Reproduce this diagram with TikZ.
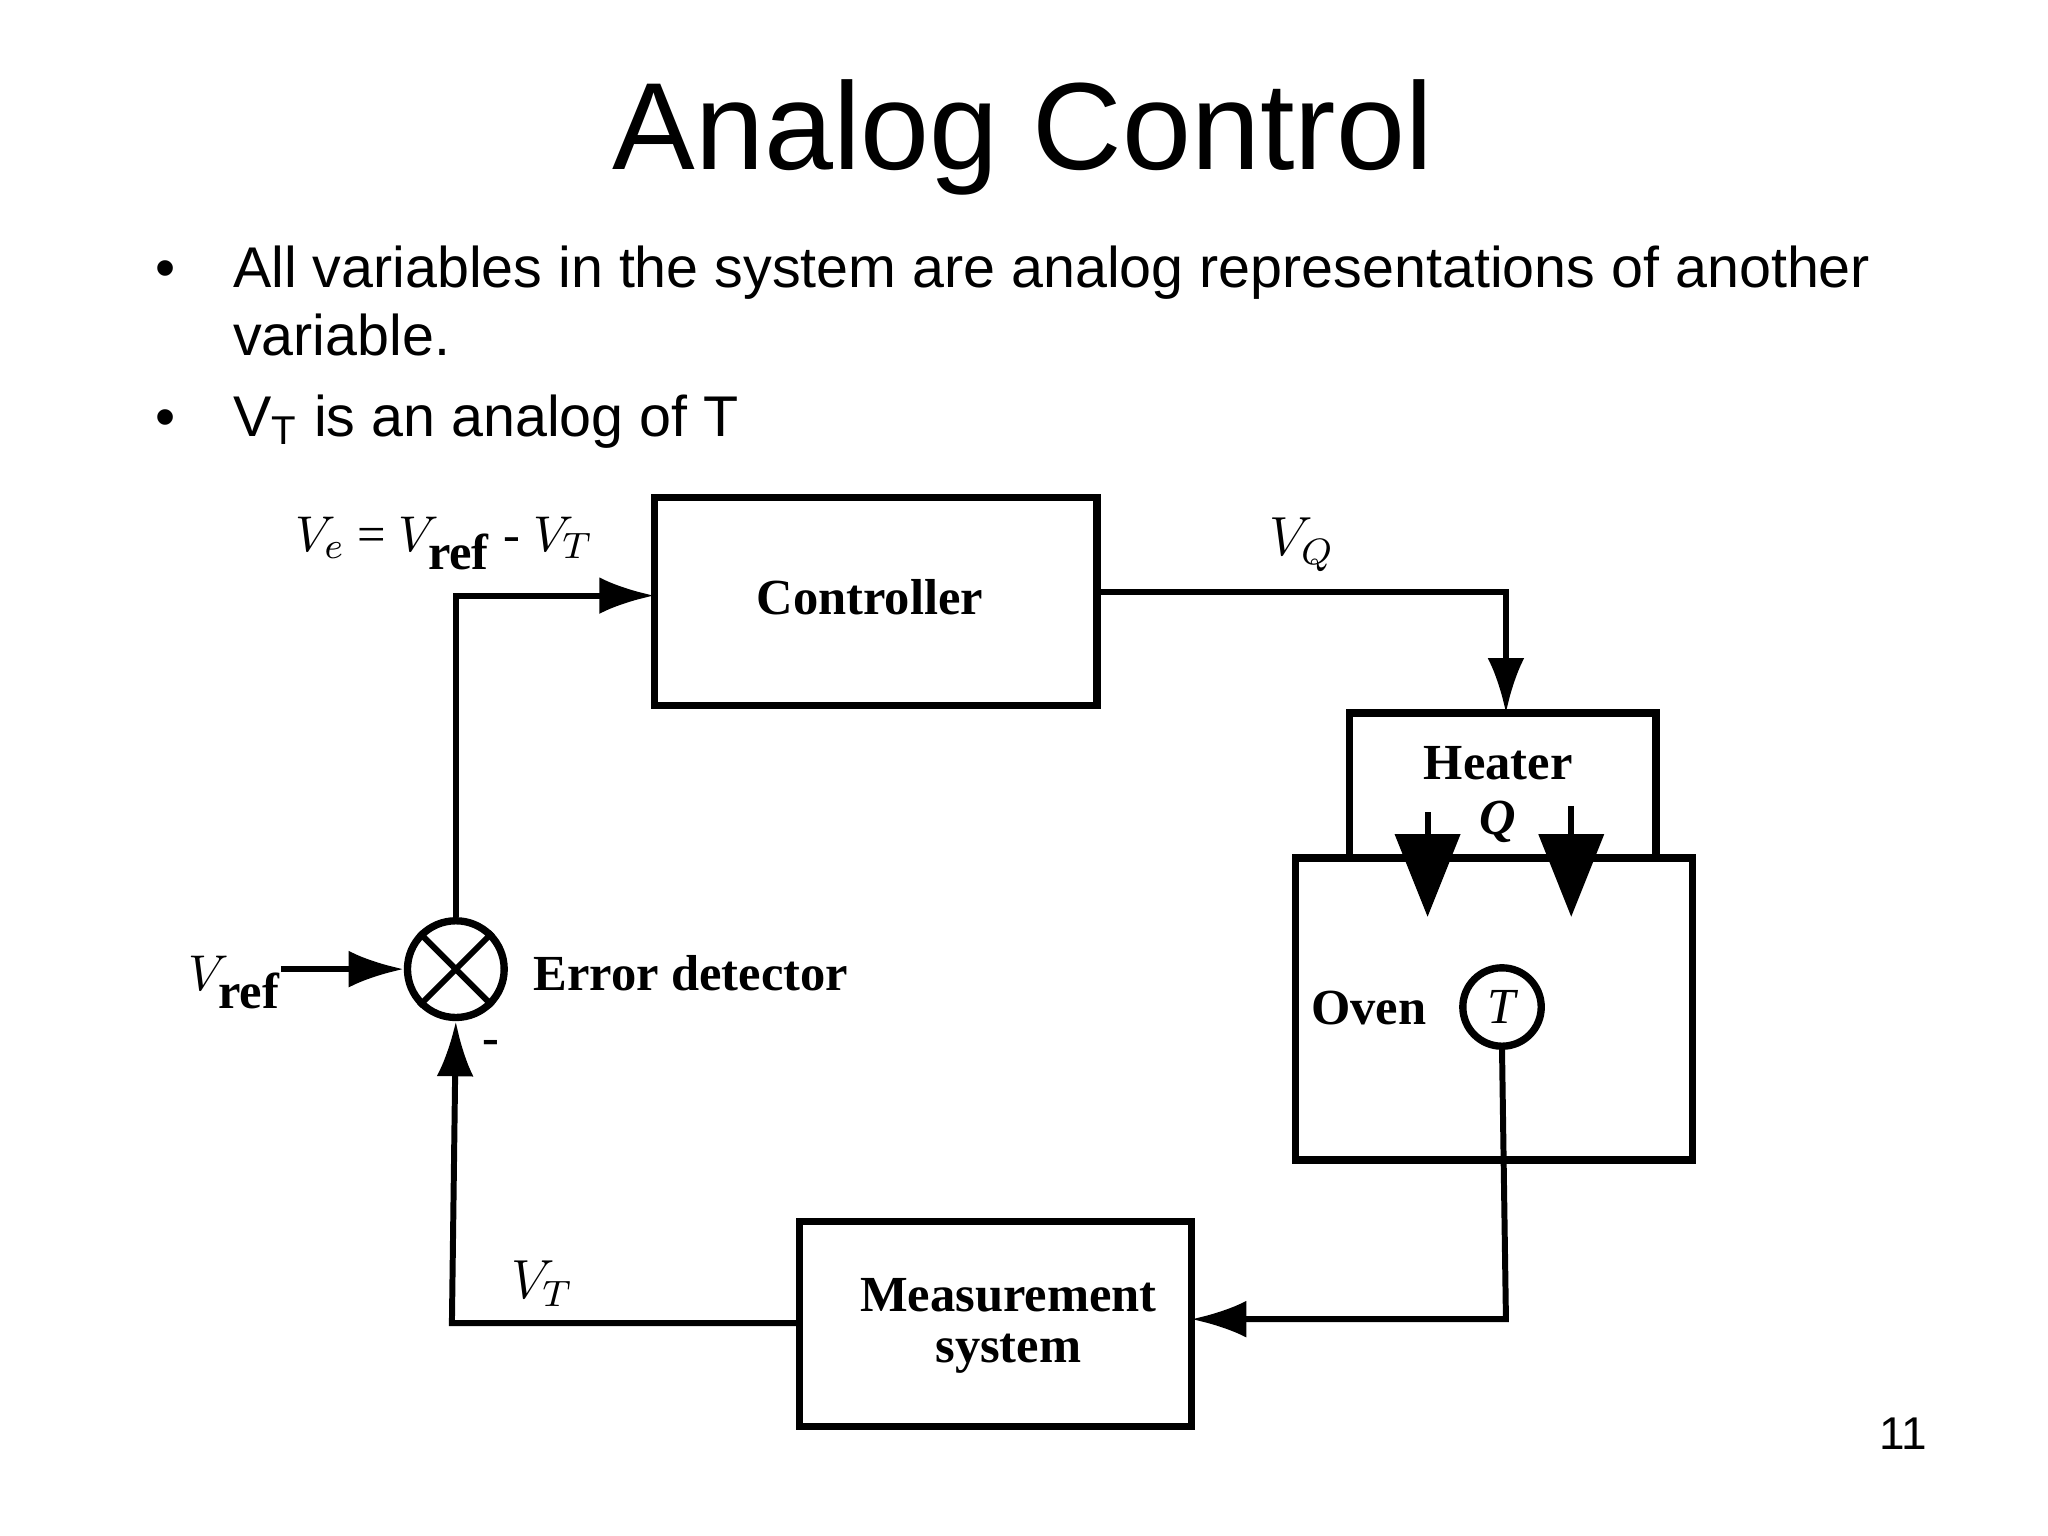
\documentclass[tikz,border=0pt]{standalone}
\usepackage{fontspec}
\setmainfont{Liberation Serif}
\newfontfamily\sansf{Liberation Sans}
\usetikzlibrary{arrows.meta}
\begin{document}
\begin{tikzpicture}[x=0.01cm,y=-0.01cm,
  blk/.style={draw,line width=1.6pt},
  ln/.style={line width=1.3pt},
  arr/.style={ln,-{Latex[length=12pt,width=8pt]}},
  big/.style={ln,-{Triangle[length=18pt,width=14pt]}},
  lbl/.style={font=\fontsize{11pt}{13pt}\selectfont\bfseries},
  txt/.style={font=\sansf\fontsize{12.5pt}{15pt}\selectfont,anchor=base west}]
\useasboundingbox (0,0) rectangle (1568,1176);
\node[font=\sansf\fontsize{27pt}{30pt}\selectfont] (title) at (783,105) {Analog Control};
\node[txt] (b1) at (107,220) {•};
\node[txt] (t1) at (166,220) {All variables in the system are analog representations of another};
\node[txt] (t2) at (166,272) {variable.};
\node[txt] (b2) at (107,334) {•};
\node[txt] (t3) at (166,334) {V\textsubscript{T} is an analog of T};
% blocks
\draw[blk] (501,381) rectangle (840,540);
\node[lbl] (ctrlt) at (666,457) {Controller};
\draw[blk] (1033,546) rectangle (1268,657);
\draw[blk] (992,657) rectangle (1296,888);
\draw[blk] (612,935) rectangle (912,1092);
\node[lbl] (heat) at (1147,584) {Heater};
\node[lbl,font=\fontsize{11pt}{13pt}\selectfont\bfseries\itshape] (q) at (1147,629) {Q};
\node[lbl] (oven) at (1048,772) {Oven};
\node[draw,circle,line width=1.6pt,inner sep=0,minimum size=0.6cm,font=\fontsize{11pt}{13pt}\selectfont\itshape] (T) at (1150,771) {T};
\node[lbl,align=center] (meas) at (772,1015) {Measurement\\[-2pt]system};
\node[draw,circle,line width=1.6pt,minimum size=0.74cm,inner sep=0] (sum) at (349,742) {};
\draw[line width=1.3pt] (sum.north west) -- (sum.south east) (sum.north east) -- (sum.south west);
\node[lbl,anchor=west] (err) at (396,745) {Error detector};
\node[font=\fontsize{11pt}{13pt}\selectfont] (vref) at (180,752) {$V_{\textbf{ref}}$};
\node[lbl] (minus) at (376,802) {-};
\node[font=\fontsize{11pt}{13pt}\selectfont] (ve) at (340,416) {$V_e$ = $V_{\textbf{ref}}$ - $V_T$};
\node[font=\fontsize{12pt}{13pt}\selectfont] (vq) at (997,417) {$V_Q$};
\node[font=\fontsize{12pt}{13pt}\selectfont] (vt) at (415,983) {$V_T$};
\node[font=\sansf\fontsize{10pt}{12pt}\selectfont] (pg) at (1457,1098) {11};
% connectors
\coordinate (c2) at (1153,453);
\coordinate (c3) at (1153,1010);
\coordinate (c4) at (346,1013);
\coordinate (vs) at (215,742);
\draw[arr] (sum.north) |- (501,456);
\draw[arr] (840,453) -- (c2) -- (1153,546);
\draw[arr] (T.south) -- (c3) -- (912,1010);
\draw[arr] (612,1013) -- (c4) -- (sum.south);
\draw[arr] (vs) -- (sum.west);
\coordinate (h1) at (1093,622); \coordinate (h2) at (1093,702);
\coordinate (h3) at (1203,617); \coordinate (h4) at (1203,702);
\draw[big] (h1) -- (h2);
\draw[big] (h3) -- (h4);
\end{tikzpicture}
\end{document}
